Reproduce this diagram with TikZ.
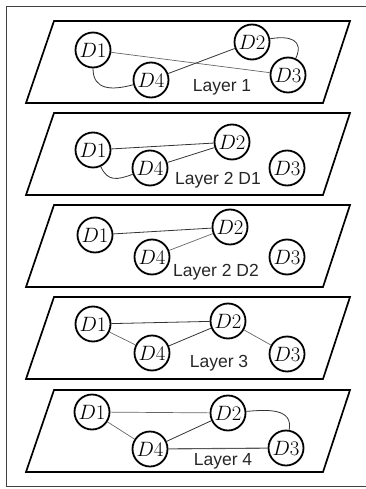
\documentclass[tikz,border=0pt]{standalone}
\usepackage{fontspec}
\setsansfont{Liberation Sans}
\begin{document}
\begin{tikzpicture}[x=1pt,y=-1pt,
  dev/.style={circle,draw=black,line width=1.8pt,minimum size=35pt,inner sep=0pt,
    font=\fontsize{20.5}{22}\selectfont},
  plane/.style={draw=black,line width=1.7pt,line join=miter},
  frame/.style={draw=black!75,line width=1.6pt},
  link/.style={draw=black!80,line width=0.8pt},
  weak/.style={draw=black!60,line width=0.7pt},
  lbl/.style={font=\sffamily\fontsize{17.5}{20}\selectfont,text=black!85,inner sep=0pt}]
\useasboundingbox (0,0) rectangle (366,489);
\path[frame] (370,6.5) -- (6.5,6.5) -- (6.5,486.5) -- (370,486.5);

% the five layer planes
\foreach \t in {21,113,205,297,390}
  \path[plane] (54,\t) -- (350,\t) -- (323,\t+82) -- (26,\t+82) -- cycle;

% Layer 1
\node[dev] (a1) at (93,50) {$D1$};
\node[dev] (a2) at (252,42) {$D2$};
\node[dev] (a3) at (288,75) {$D3$};
\node[dev] (a4) at (151,80) {$D4$};
\node[lbl] (la) at (222,87) {Layer 1};
\draw[weak] (a1) -- (a3);
\draw[link] (a4) -- (a2);
\draw[link] (a1) to[out=-90,in=195,looseness=1.3] (a4);
\draw[link] (a2) to[out=10,in=65,looseness=1.6] (a3);

% Layer 2 D1
\node[dev] (b1) at (93,150) {$D1$};
\node[dev] (b2) at (232,142) {$D2$};
\node[dev] (b3) at (287,168) {$D3$};
\node[dev] (b4) at (150,168) {$D4$};
\node[lbl] (lb) at (218,180) {Layer 2 D1};
\draw[link] (b1) -- (b2);
\draw[link] (b4) -- (b2);
\draw[link] (b1) to[out=-65,in=200,looseness=1.3] (b4);

% Layer 2 D2
\node[dev] (c1) at (95,235) {$D1$};
\node[dev] (c2) at (230,227) {$D2$};
\node[dev] (c3) at (287,257) {$D3$};
\node[dev] (c4) at (152,257) {$D4$};
\node[lbl] (lc) at (216,272) {Layer 2 D2};
\draw[link] (c1) -- (c2);
\draw[weak] (c4) -- (c2);

% Layer 3
\node[dev] (d1) at (93,324) {$D1$};
\node[dev] (d2) at (228,321) {$D2$};
\node[dev] (d3) at (287,354) {$D3$};
\node[dev] (d4) at (152,353) {$D4$};
\node[lbl] (ld) at (219,363) {Layer 3};
\draw[link] (d1) -- (d2);
\draw[weak] (d1) -- (d4);
\draw[link] (d4) -- (d2);
\draw[weak] (d2) -- (d3);

% Layer 4
\node[dev] (e1) at (92,412) {$D1$};
\node[dev] (e2) at (228,413) {$D2$};
\node[dev] (e3) at (286,448) {$D3$};
\node[dev] (e4) at (150,449) {$D4$};
\node[lbl] (le) at (223,461) {Layer 4};
\draw[weak] (e1) -- (e2);
\draw[weak] (e1) -- (e4);
\draw[link] (e4) -- (e2);
\draw[draw=black!65,line width=1.1pt] (e4) -- (e3);
\draw[link] (e2) to[out=5,in=80,looseness=1.2] (e3);
\end{tikzpicture}
\end{document}
